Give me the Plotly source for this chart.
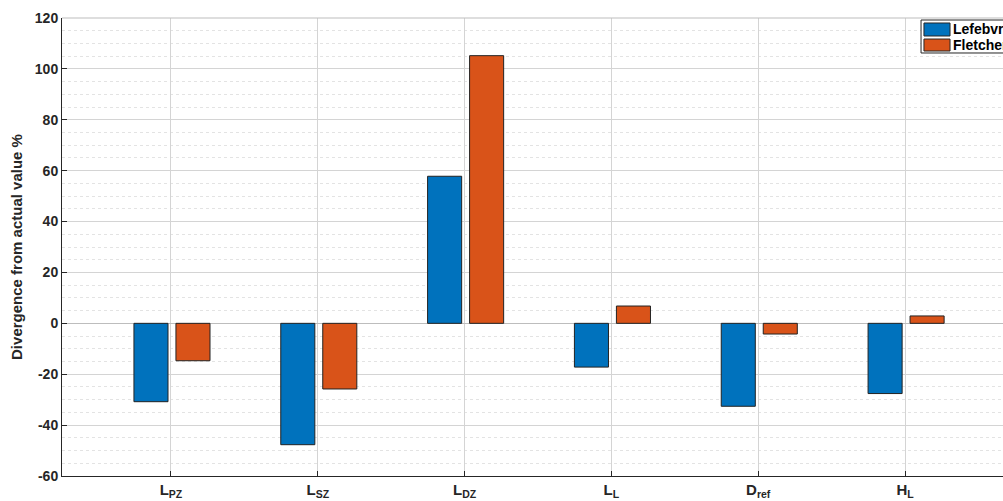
import plotly.graph_objects as go

categories = ["L<sub>PZ</sub>", "L<sub>SZ</sub>", "L<sub>DZ</sub>", "L<sub>L</sub>", "D<sub>ref</sub>", "H<sub>L</sub>"]
x_pos = [1, 2, 3, 4, 5, 6]
series_names = ["Lefebvre", "Fletcher"]
lefebvre = [-30.8, -47.7, 57.8, -17.2, -32.6, -27.6]
fletcher = [-14.7, -25.8, 105.2, 6.8, -4.2, 2.9]
y_ticks = [-60, -40, -20, 0, 20, 40, 60, 80, 100, 120]
y_tick_labels = ["-60", "-40", "-20", "0", "20", "40", "60", "80", "100", "120"]

colors = ["#0072BD", "#D95319"]
font = "Liberation Sans, Arial, sans-serif"

fig = go.Figure()
fig.add_trace(go.Bar(
    x=x_pos, y=lefebvre, name=series_names[0], showlegend=False,
    width=0.232, offset=-0.252,
    marker=dict(color=colors[0], line=dict(color="#222222", width=1)),
))
fig.add_trace(go.Bar(
    x=x_pos, y=fletcher, name=series_names[1], showlegend=False,
    width=0.232, offset=0.034,
    marker=dict(color=colors[1], line=dict(color="#222222", width=1)),
))

fig.update_layout(
    width=1003, height=501,
    margin=dict(l=62, r=0, t=18, b=25, autoexpand=False),
    paper_bgcolor="white", plot_bgcolor="white",
    barmode="overlay",
    font=dict(family=font, size=14, color="#262626"),
    showlegend=False,
    xaxis=dict(
        range=[0.258, 6.667],
        tickmode="array", tickvals=x_pos, ticktext=categories,
        tickfont=dict(family=font, size=15, color="#262626", weight="bold"),
        showgrid=True, gridcolor="#d4d4d4", gridwidth=1,
        zeroline=False, automargin=False,
        showline=True, linecolor="#262626", linewidth=1,
        ticks="inside", ticklen=5, tickcolor="#262626",
        mirror=False,
    ),
    yaxis=dict(
        range=[-60, 120], automargin=False,
        tickmode="array", tickvals=y_ticks, ticktext=y_tick_labels,
        tickfont=dict(family=font, size=14, color="#262626", weight="bold"),
        title=dict(text="Divergence from actual value %",
                   font=dict(family=font, size=15, color="#262626", weight="bold"),
                   standoff=8),
        showgrid=True, gridcolor="#d4d4d4", gridwidth=1,
        zeroline=True, zerolinecolor="#bdbdbd", zerolinewidth=1,
        showline=True, linecolor="#262626", linewidth=1,
        ticks="inside", ticklen=5, tickcolor="#262626",
        minor=dict(dtick=5, showgrid=True, gridcolor="#e3e3e3", griddash="dot", gridwidth=1, ticks=""),
    ),
)

# top border (box) drawn as a light line at the top of the plot area
fig.add_shape(type="line", xref="paper", yref="paper", x0=0, x1=1, y0=1, y1=1,
              line=dict(color="#bdbdbd", width=1))

# MATLAB-style legend box (partly cut off at the right edge, as in the original)
fig.add_shape(type="rect", xref="paper", yref="paper",
              x0=0.9129, x1=1.05, y0=0.9236, y1=0.9956,
              line=dict(color="#262626", width=1), fillcolor="white", layer="above")
patch_y = [(0.9607, 0.9891), (0.9279, 0.9541)]
text_y = [0.9749, 0.9410]
for i, name in enumerate(series_names):
    fig.add_shape(type="rect", xref="paper", yref="paper",
                  x0=0.9160, x1=0.9437, y0=patch_y[i][0], y1=patch_y[i][1],
                  line=dict(color="#262626", width=1), fillcolor=colors[i], layer="above")
    fig.add_annotation(xref="paper", yref="paper", x=0.9452, y=text_y[i],
                       xanchor="left", yanchor="middle", showarrow=False,
                       text=name, font=dict(family=font, size=14, color="#000000", weight="bold"))

fig.write_html(
    "out.html",
    config={"displayModeBar": False},
    post_script="document.body.style.margin='0';document.body.style.overflow='hidden';",
)
